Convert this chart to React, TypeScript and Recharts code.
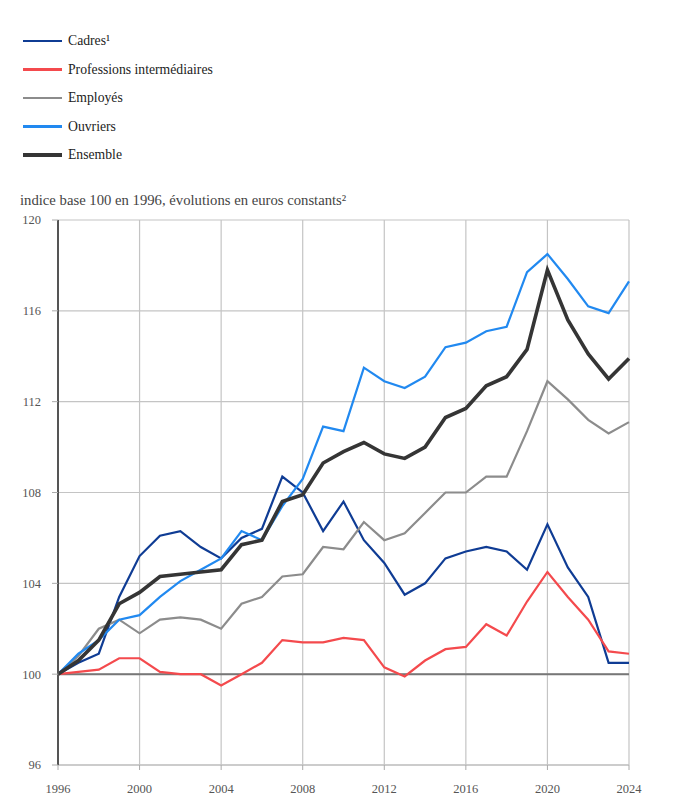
import React from 'react'
import { LineChart, Line, XAxis, YAxis, CartesianGrid, ReferenceLine } from 'recharts'

const years = [
  1996, 1997, 1998, 1999, 2000, 2001, 2002, 2003, 2004, 2005, 2006, 2007, 2008, 2009, 2010,
  2011, 2012, 2013, 2014, 2015, 2016, 2017, 2018, 2019, 2020, 2021, 2022, 2023, 2024,
]

const cadres = [
  100, 100.5, 100.9, 103.4, 105.2, 106.1, 106.3, 105.6, 105.1, 106.0, 106.4, 108.7, 108.0, 106.3, 107.6,
  105.9, 104.9, 103.5, 104.0, 105.1, 105.4, 105.6, 105.4, 104.6, 106.6, 104.7, 103.4, 100.5, 100.5,
]
const professions = [
  100, 100.1, 100.2, 100.7, 100.7, 100.1, 100.0, 100.0, 99.5, 100.0, 100.5, 101.5, 101.4, 101.4, 101.6,
  101.5, 100.3, 99.9, 100.6, 101.1, 101.2, 102.2, 101.7, 103.2, 104.5, 103.4, 102.4, 101.0, 100.9,
]
const employes = [
  100, 100.8, 102.0, 102.4, 101.8, 102.4, 102.5, 102.4, 102.0, 103.1, 103.4, 104.3, 104.4, 105.6, 105.5,
  106.7, 105.9, 106.2, 107.1, 108.0, 108.0, 108.7, 108.7, 110.7, 112.9, 112.1, 111.2, 110.6, 111.1,
]
const ouvriers = [
  100, 100.9, 101.5, 102.4, 102.6, 103.4, 104.1, 104.6, 105.1, 106.3, 105.9, 107.4, 108.6, 110.9, 110.7,
  113.5, 112.9, 112.6, 113.1, 114.4, 114.6, 115.1, 115.3, 117.7, 118.5, 117.4, 116.2, 115.9, 117.3,
]
const ensemble = [
  100, 100.6, 101.5, 103.1, 103.6, 104.3, 104.4, 104.5, 104.6, 105.7, 105.9, 107.6, 107.9, 109.3, 109.8,
  110.2, 109.7, 109.5, 110.0, 111.3, 111.7, 112.7, 113.1, 114.3, 117.8, 115.6, 114.1, 113.0, 113.9,
]

const xTicks = [1996, 2000, 2004, 2008, 2012, 2016, 2020, 2024]
const yTicks = [96, 100, 104, 108, 112, 116, 120]

const series = [
  { key: 'cadres', name: 'Cadres¹', values: cadres, color: '#0f3c94', width: 2.2 },
  { key: 'professions', name: 'Professions intermédiaires', values: professions, color: '#f44a4d', width: 2.2 },
  { key: 'employes', name: 'Employés', values: employes, color: '#8c8c8c', width: 2.2 },
  { key: 'ouvriers', name: 'Ouvriers', values: ouvriers, color: '#2189f0', width: 2.2 },
  { key: 'ensemble', name: 'Ensemble', values: ensemble, color: '#353535', width: 3.6 },
]

const data = years.map((year, i) => {
  const row: Record<string, number> = { year }
  series.forEach((s) => {
    row[s.key] = s.values[i]
  })
  return row
})

const FONT = "'Liberation Serif', 'DejaVu Serif', serif"

export default function App() {
  return (
    <div style={{ position: 'absolute', left: 0, top: 0, width: 686, height: 800, background: '#fff', fontFamily: FONT }}>
      {series.map((s, i) => (
        <div
          key={s.key}
          style={{ position: 'absolute', left: 23, top: 41 + i * 28.5 - 10, height: 20, display: 'flex', alignItems: 'center' }}
        >
          <div style={{ width: 39, height: s.width + 0.5, background: s.color, marginRight: 6 }} />
          <span style={{ fontSize: 13.7, color: '#222' }}>{s.name}</span>
        </div>
      ))}
      <div style={{ position: 'absolute', left: 20, top: 192, fontSize: 14.7, color: '#444' }}>
        indice base 100 en 1996, évolutions en euros constants²
      </div>
      <div style={{ position: 'absolute', left: 0, top: 0 }}>
        <LineChart width={686} height={800} data={data} margin={{ top: 220, right: 57, bottom: 5, left: 8 }}>
          <CartesianGrid stroke="#c4c4c4" strokeWidth={1.2} />
          <XAxis
            dataKey="year"
            type="number"
            domain={[1996, 2024]}
            ticks={xTicks}
            interval={0}
            height={30}
            tickSize={5}
            tickMargin={14}
            axisLine={{ stroke: '#c4c4c4', strokeWidth: 1.5 }}
            tickLine={{ stroke: '#aaa' }}
            tick={{ fontSize: 12.5, fill: '#555', fontFamily: FONT }}
          />
          <YAxis
            type="number"
            domain={[96, 120]}
            ticks={yTicks}
            interval={0}
            width={50}
            tickSize={6}
            tickMargin={11}
            axisLine={{ stroke: '#555', strokeWidth: 2 }}
            tickLine={{ stroke: '#aaa' }}
            tick={{ fontSize: 12.5, fill: '#555', fontFamily: FONT }}
          />
          <ReferenceLine y={100} stroke="#777" strokeWidth={2} />
          {series.map((s) => (
            <Line
              key={s.key}
              dataKey={s.key}
              name={s.name}
              stroke={s.color}
              strokeWidth={s.width}
              dot={false}
              type="linear"
              isAnimationActive={false}
            />
          ))}
        </LineChart>
      </div>
    </div>
  )
}
